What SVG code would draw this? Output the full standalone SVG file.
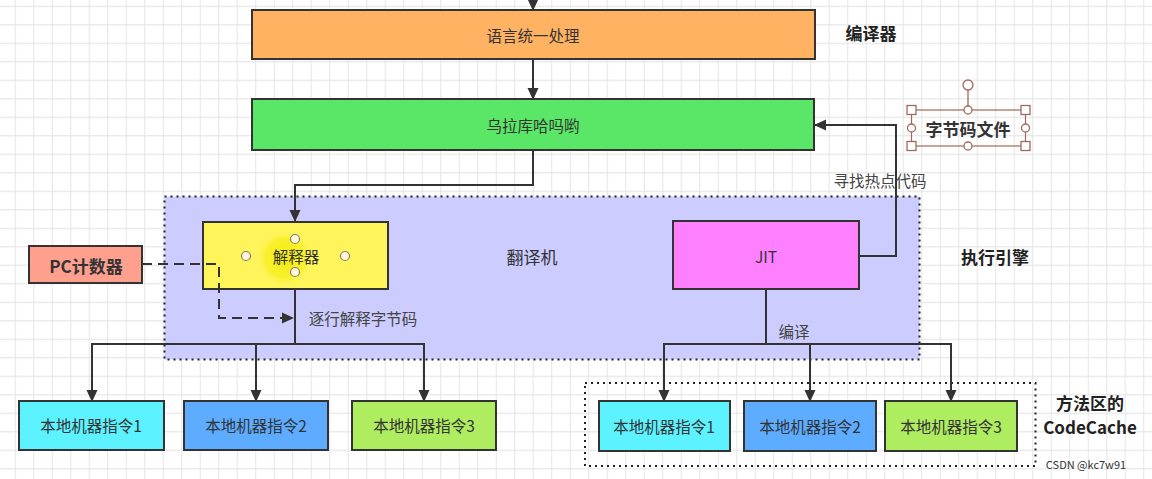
<svg xmlns="http://www.w3.org/2000/svg" width="1152" height="479" viewBox="0 0 1152 479">
<defs>
<pattern id="grid" patternUnits="userSpaceOnUse" x="14.7" y="5.7" width="18.5" height="18.5">
<path d="M0.5 0V18.5M0 0.5H18.5" fill="none" stroke="#e6e6e6" stroke-width="1.2"/>
</pattern>
<marker id="ah" viewBox="0 0 12 12" refX="11" refY="6" markerWidth="12" markerHeight="12" markerUnits="userSpaceOnUse" orient="auto">
<path d="M0 0.5L12 6L0 11.5Z" fill="#333"/>
</marker>
<radialGradient id="glow">
<stop offset="0" stop-color="#f2ea00" stop-opacity="0.9"/>
<stop offset="0.7" stop-color="#f5ee10" stop-opacity="0.6"/>
<stop offset="1" stop-color="#fff45a" stop-opacity="0"/>
</radialGradient>
</defs>
<style>
.box{stroke:#333;stroke-width:2}
.t{font-family:"Noto Sans CJK SC","Liberation Sans",sans-serif;fill:#333;text-anchor:middle;dominant-baseline:central}
.n{font-size:15.5px}
.b{font-size:17px;font-weight:bold;fill:#222}
.lbl{font-size:15.5px;fill:#444}
.ln{fill:none;stroke:#333;stroke-width:2}
.dot{stroke:#222;stroke-width:2;stroke-dasharray:2 4}
.h{fill:#fff;stroke:#a06a5a;stroke-width:1.3}
.hc{fill:#fff6e0;stroke:#8a7a60;stroke-width:1.2}
</style>
<rect width="1152" height="479" fill="#fff"/>
<rect width="1152" height="479" fill="url(#grid)"/>

<g id="engine">
<rect x="164.5" y="196.5" width="755" height="163" class="dot" style="fill:#ccccff"/>
<text class="t" x="532" y="256" font-size="17" fill="#333">翻译机</text>
</g>
<g id="codecache">
<rect x="585" y="383" width="450.5" height="83" class="dot" style="fill:none"/>
</g>

<g id="unify">
<rect class="box" x="252" y="10" width="563" height="49" fill="#ffb262"/>
<text class="t n" x="533" y="35">语言统一处理</text>
</g>
<g id="compiler-label"><text class="t b" x="871" y="32">编译器</text></g>
<g id="green">
<rect class="box" x="252" y="99" width="562" height="51" fill="#5ae666"/>
<text class="t n" x="533" y="125">乌拉库哈吗哟</text>
</g>
<g id="bytecode">
<line x1="968" y1="90" x2="968" y2="110" stroke="#a06a5a" stroke-width="1.3"/>
<rect x="911.5" y="110" width="114" height="36" fill="none" stroke="#a06a5a" stroke-width="1.2"/>
<text class="t" x="968" y="128" font-size="17" font-weight="bold" fill="#222">字节码文件</text>
<circle class="h" cx="968" cy="85" r="5"/>
<circle class="h" cx="968" cy="110" r="4"/>
<circle class="h" cx="968" cy="146" r="4"/>
<circle class="h" cx="911.5" cy="128" r="4"/>
<circle class="h" cx="1025.5" cy="128" r="4"/>
<rect class="h" x="907" y="105.5" width="9" height="9"/>
<rect class="h" x="1021" y="105.5" width="9" height="9"/>
<rect class="h" x="907" y="141.5" width="9" height="9"/>
<rect class="h" x="1021" y="141.5" width="9" height="9"/>
</g>
<g id="interpreter">
<rect class="box" x="203" y="222" width="185" height="67" fill="#fff45a"/>
<circle cx="285" cy="258" r="28" fill="url(#glow)"/>
<text class="t n" x="296" y="256" font-size="16">解释器</text>
<circle class="hc" cx="246" cy="256" r="4.5"/>
<circle class="hc" cx="345" cy="256" r="4.5"/>
<circle class="hc" cx="295" cy="239" r="4.5"/>
<circle class="hc" cx="295" cy="272" r="4.5"/>
</g>
<g id="jit">
<rect class="box" x="673" y="221" width="186" height="68" fill="#ff80ff"/>
<text class="t n" x="766" y="256" font-size="16">JIT</text>
</g>
<g id="engine-label"><text class="t b" x="995" y="256">执行引擎</text></g>
<g id="pc">
<rect class="box" x="29" y="246" width="113" height="37" fill="#ffa08f"/>
<text class="t" x="86" y="265" font-size="17" font-weight="bold" fill="#222">PC计数器</text>
</g>
<g id="l1"><rect class="box" x="19" y="401" width="145" height="49" fill="#5cf2ff"/><text class="t n" x="91" y="425">本地机器指令1</text></g>
<g id="l2"><rect class="box" x="184" y="401" width="144" height="49" fill="#5dacff"/><text class="t n" x="256" y="425">本地机器指令2</text></g>
<g id="l3"><rect class="box" x="352" y="401" width="144" height="49" fill="#aeec60"/><text class="t n" x="424" y="425">本地机器指令3</text></g>
<g id="r1"><rect class="box" x="599" y="401" width="131" height="50" fill="#5cf2ff"/><text class="t n" x="664" y="426">本地机器指令1</text></g>
<g id="r2"><rect class="box" x="744" y="401" width="132" height="50" fill="#5dacff"/><text class="t n" x="810" y="426">本地机器指令2</text></g>
<g id="r3"><rect class="box" x="885" y="401" width="132" height="50" fill="#aeec60"/><text class="t n" x="951" y="426">本地机器指令3</text></g>
<g id="cc-label">
<text class="t b" x="1090" y="402">方法区的</text>
<text class="t b" x="1090" y="426">CodeCache</text>
</g>
<text class="t" x="1086" y="464" font-size="11" fill="#999">CSDN @kc7w91</text>

<g id="connectors">
<line class="ln" x1="533" y1="0" x2="533" y2="10" marker-end="url(#ah)"/>
<line class="ln" x1="533" y1="59" x2="533" y2="99" marker-end="url(#ah)"/>
<polyline class="ln" points="533,150 533,185 295,185 295,221" marker-end="url(#ah)"/>
<polyline class="ln" points="859,256 896,256 896,125 815,125" marker-end="url(#ah)"/>
<polyline class="ln" points="142,264 219,264 219,318 293,318" stroke-dasharray="10 6" marker-end="url(#ah)"/>
<polyline class="ln" points="295,289 295,344"/>
<line class="ln" x1="91" y1="344" x2="425" y2="344"/>
<line class="ln" x1="92" y1="344" x2="92" y2="401" marker-end="url(#ah)"/>
<line class="ln" x1="256" y1="344" x2="256" y2="401" marker-end="url(#ah)"/>
<line class="ln" x1="424" y1="344" x2="424" y2="401" marker-end="url(#ah)"/>
<polyline class="ln" points="766,289 766,344"/>
<line class="ln" x1="663" y1="344" x2="952" y2="344"/>
<line class="ln" x1="664" y1="344" x2="664" y2="401" marker-end="url(#ah)"/>
<line class="ln" x1="810" y1="344" x2="810" y2="401" marker-end="url(#ah)"/>
<line class="ln" x1="951" y1="344" x2="951" y2="401" marker-end="url(#ah)"/>
<text class="t lbl" x="880" y="180">寻找热点代码</text>
<text class="t lbl" x="363" y="318">逐行解释字节码</text>
<text class="t lbl" x="794" y="331">编译</text>
</g>
</svg>
